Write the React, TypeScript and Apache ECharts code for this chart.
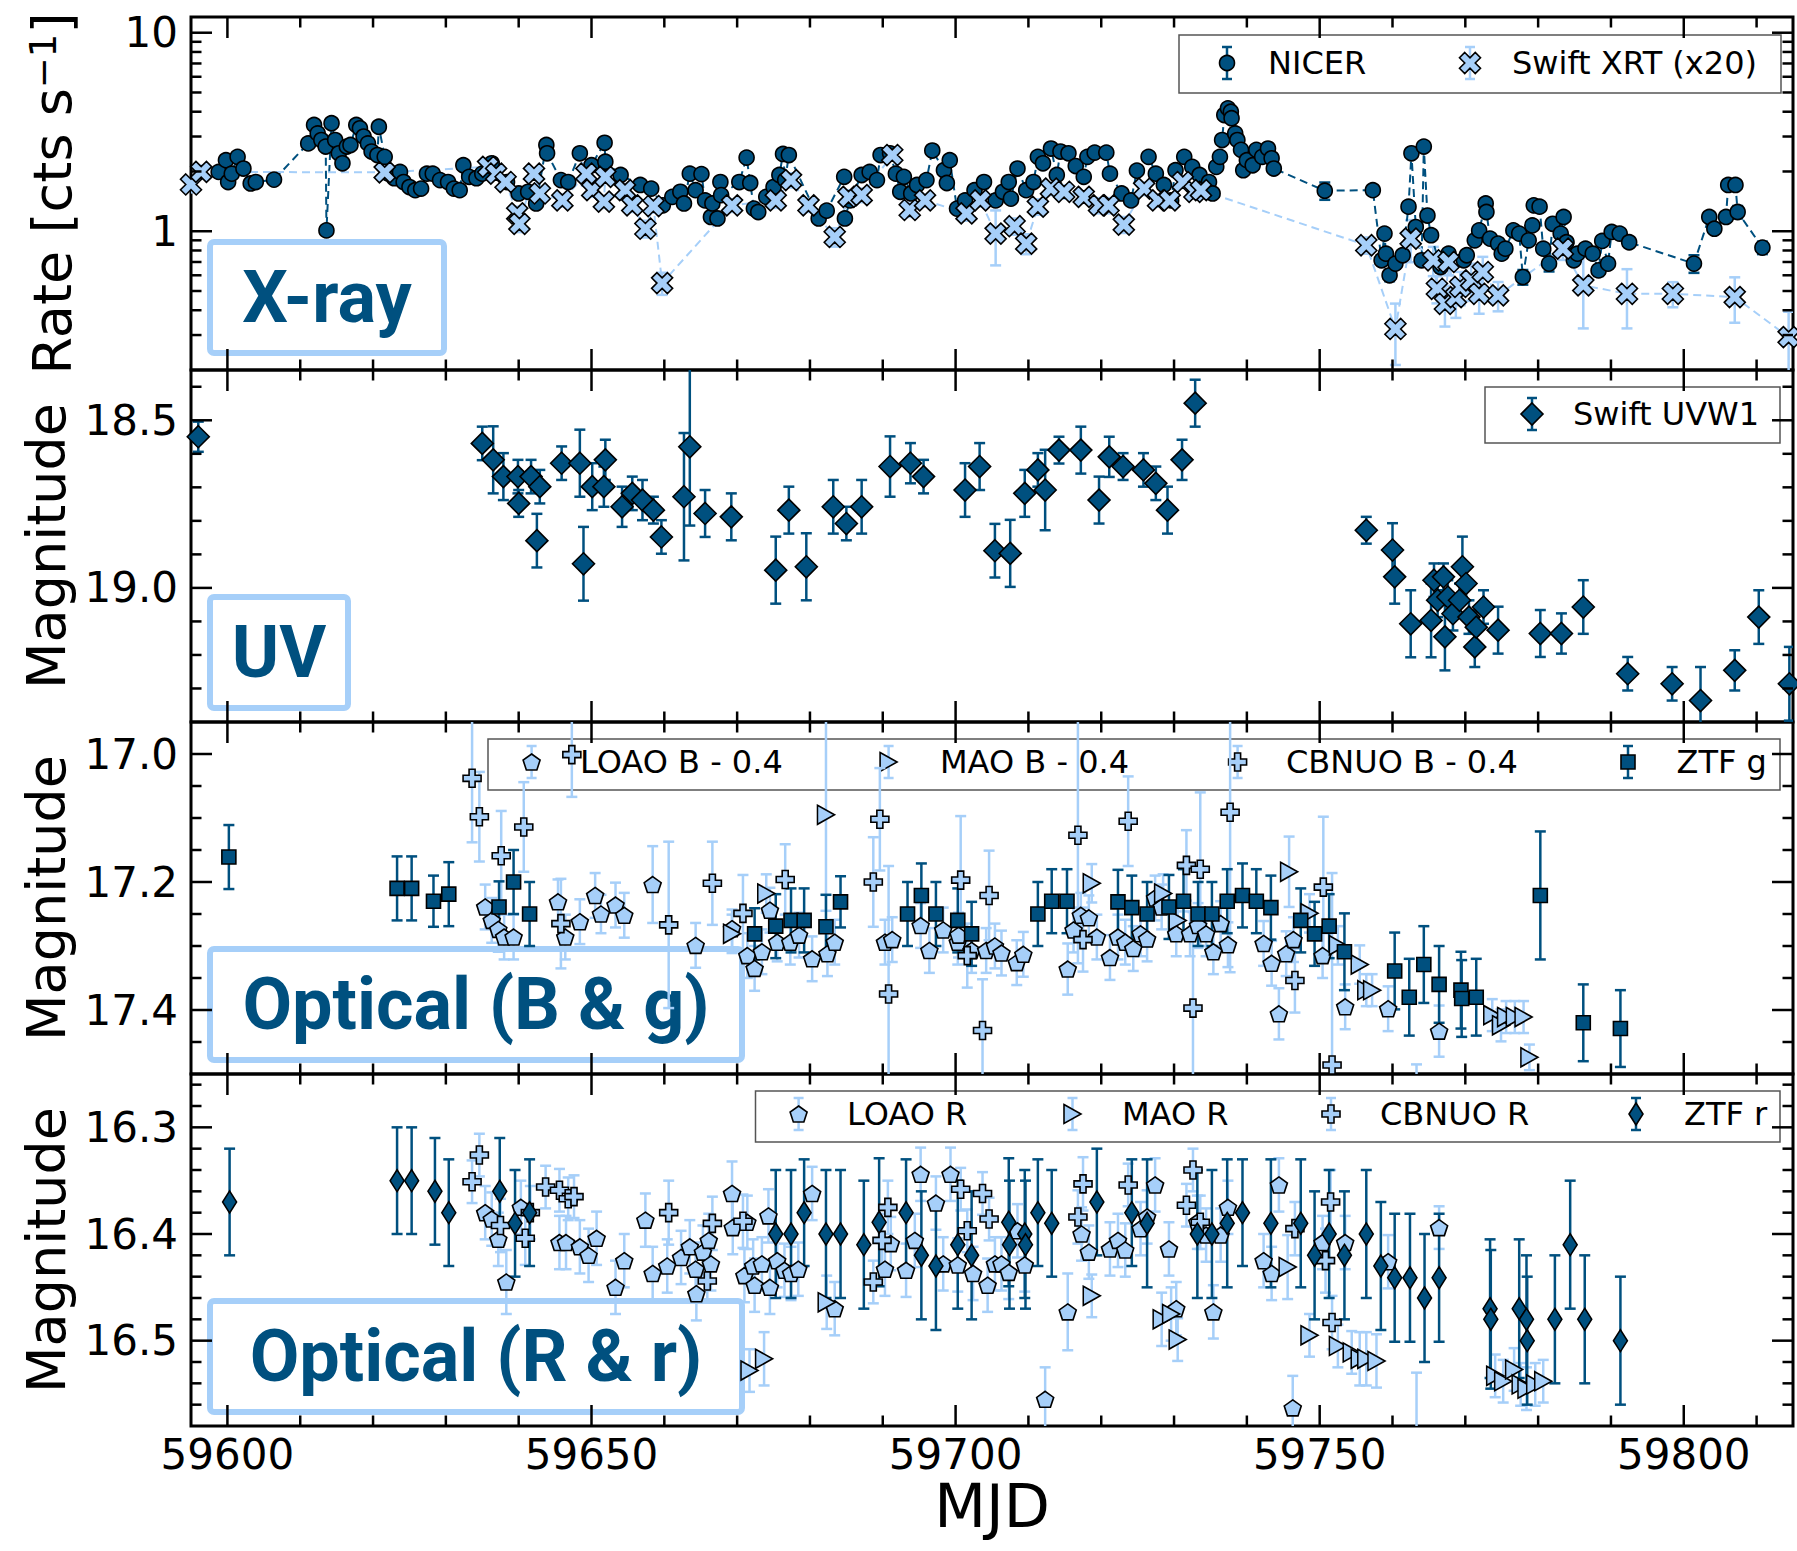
import React, { useEffect, useRef } from 'react';
import * as echarts from 'echarts';

const DARK = '#00507f';
const LIGHT = '#a6cff9';
const FONT = 'DejaVu Sans';
const X_MIN = 59595;
const X_MAX = 59815;

// ---------- tick values ----------
const xMajorTicks = [59600, 59650, 59700, 59750, 59800];
const xMinorTicks = [59610, 59620, 59630, 59640, 59660, 59670, 59680, 59690, 59710, 59720, 59730, 59740, 59760, 59770, 59780, 59790, 59810];
const rateMajorTicks = [1, 10];
const rateMinorTicks = [0.3, 0.4, 0.5, 0.6, 0.7, 0.8, 0.9, 2, 3, 4, 5, 6, 7, 8, 9];
const uvMajorTicks = [18.5, 19.0];
const uvMinorTicks = [18.4, 18.6, 18.7, 18.8, 18.9, 19.1, 19.2, 19.3];
const bgMajorTicks = [17.0, 17.2, 17.4];
const bgMinorTicks = [17.05, 17.1, 17.15, 17.25, 17.3, 17.35, 17.45];
const rrMajorTicks = [16.3, 16.4, 16.5];
const rrMinorTicks = [16.26, 16.28, 16.32, 16.34, 16.36, 16.38, 16.42, 16.44, 16.46, 16.48, 16.52, 16.54, 16.56];

// ---------- X-ray: [MJD, rate, err] ----------
const nicer = [
  [59598.8,1.99,0.06],[59599.8,2.28,0.06],[59600.1,1.77,0.05],[59600.6,1.95,0.05],[59601.4,2.37,0.06],[59602.2,2.07,0.06],[59603.2,1.74,0.05],[59603.9,1.77,0.05],[59606.4,1.82,0.05],
  [59611.1,2.77,0.07],[59611.9,3.43,0.08],[59612.4,3.11,0.08],[59612.9,2.88,0.07],[59613.5,2.67,0.07],[59613.6,1.01,0.05],[59614.3,3.50,0.08],[59614.8,2.88,0.07],[59615.3,2.47,0.06],[59615.8,2.20,0.06],[59616.4,2.67,0.07],[59616.9,2.72,0.07],[59617.7,3.43,0.08],[59618.2,3.30,0.08],[59618.7,3.00,0.07],[59619.3,2.77,0.07],[59619.8,2.52,0.06],[59620.6,2.42,0.06],[59620.8,3.36,0.08],[59621.6,2.37,0.06],
  [59622.1,1.95,0.05],[59622.9,1.85,0.05],[59623.7,1.99,0.05],[59624.2,1.77,0.05],[59625.0,1.67,0.05],[59625.8,1.61,0.05],[59626.6,1.64,0.05],[59627.4,1.95,0.05],[59628.2,1.95,0.05],[59629.2,1.81,0.05],[59630.3,1.77,0.05],[59631.1,1.64,0.05],[59631.9,1.61,0.05],[59632.4,2.15,0.06],[59633.2,1.88,0.05],[59634.2,1.85,0.05],[59635.0,1.95,0.05],[59636.3,2.20,0.06],[59638.4,1.77,0.05],[59640.0,1.55,0.05],[59641.3,1.58,0.05],[59642.4,1.38,0.05],[59643.8,2.72,0.07],[59643.9,2.47,0.06],[59645.8,1.81,0.05],[59646.8,1.77,0.05],[59648.4,2.47,0.06],[59650.0,2.15,0.06],
  [59651.8,2.79,0.07],[59651.9,2.24,0.06],[59654.0,1.92,0.05],[59656.7,1.71,0.05],[59658.2,1.64,0.05],[59659.8,1.35,0.05],[59661.1,1.49,0.05],[59662.2,1.58,0.05],[59662.7,1.38,0.05],[59663.5,1.95,0.05],[59664.3,1.61,0.05],[59665.1,1.94,0.05],[59665.6,1.43,0.05],[59666.4,1.18,0.05],[59666.6,1.38,0.05],[59667.3,1.16,0.05],[59667.7,1.77,0.05],[59667.8,1.52,0.05],
  [59670.3,1.77,0.05],[59671.3,2.35,0.06],[59671.8,1.75,0.05],[59672.3,1.30,0.05],[59672.9,1.25,0.05],[59674.0,1.49,0.05],[59675.0,1.67,0.05],[59675.8,1.92,0.05],[59676.3,2.45,0.06],[59676.6,1.81,0.05],[59677.1,2.42,0.06],[59681.2,1.16,0.05],[59682.3,1.27,0.05],[59684.7,1.88,0.05],[59684.8,1.16,0.05],[59685.5,1.43,0.05],[59687.1,1.92,0.05],[59688.2,1.99,0.05],[59689.2,1.81,0.05],[59689.7,2.42,0.06],
  [59691.0,2.47,0.06],[59691.8,1.95,0.05],[59692.4,1.58,0.05],[59692.9,1.88,0.05],[59693.9,1.55,0.05],[59694.7,1.71,0.05],[59696.0,1.81,0.05],[59696.8,2.55,0.06],[59698.4,2.03,0.06],[59698.8,1.75,0.05],[59699.2,2.28,0.06],[59700.2,1.30,0.05],[59701.3,1.43,0.05],[59702.6,1.61,0.05],[59703.9,1.77,0.05],[59705.5,1.43,0.05],[59706.5,1.58,0.05],[59707.3,1.77,0.05],[59707.6,1.46,0.05],[59708.5,2.07,0.06],[59709.7,1.61,0.05],
  [59710.7,1.77,0.05],[59711.3,2.37,0.06],[59712.0,2.20,0.06],[59713.1,2.61,0.06],[59713.9,1.92,0.05],[59714.4,2.52,0.06],[59715.5,2.47,0.06],[59716.5,2.13,0.06],[59717.6,1.88,0.05],[59718.1,2.37,0.06],[59719.1,2.49,0.06],[59720.7,2.49,0.06],[59721.2,1.95,0.05],[59722.8,1.55,0.05],[59724.1,1.43,0.05],[59724.9,2.02,0.06],[59726.5,2.37,0.06],[59727.5,1.95,0.05],[59728.6,1.71,0.05],[59729.6,1.43,0.05],[59730.2,2.03,0.06],[59731.4,2.37,0.06],[59732.5,2.11,0.06],
  [59733.5,1.92,0.05],[59734.8,1.77,0.05],[59735.3,1.55,0.05],[59735.8,2.11,0.06],[59736.3,2.37,0.06],[59736.6,2.88,0.07],[59736.9,3.85,0.08],[59737.4,4.16,0.09],[59737.8,4.00,0.09],[59737.9,3.71,0.08],[59738.4,3.11,0.07],[59738.7,2.88,0.07],[59739.2,2.57,0.06],[59739.5,2.03,0.06],[59740.0,2.28,0.06],[59740.8,2.15,0.06],[59741.3,2.57,0.06],[59742.1,2.37,0.06],[59742.9,2.61,0.06],[59743.4,2.33,0.06],[59743.7,2.07,0.06],
  [59750.7,1.60,0.16],[59757.3,1.61,0.08],[59758.5,0.714,0.04],[59758.9,0.973,0.05],[59759.1,0.771,0.04],[59759.6,0.60,0.04],[59760.4,0.687,0.04],[59761.4,0.757,0.04],[59762.2,1.33,0.07],[59762.6,2.47,0.1],[59763.2,1.05,0.05],[59764.0,0.714,0.04],[59764.3,2.67,0.1],[59764.8,1.20,0.06],[59765.3,0.955,0.05],[59766.6,0.66,0.04],[59767.7,0.771,0.04],[59769.8,0.714,0.04],[59770.2,0.757,0.04],
  [59771.3,0.90,0.05],[59771.9,1.01,0.05],[59772.8,1.38,0.06],[59772.9,1.25,0.06],[59773.4,0.918,0.05],[59774.5,0.866,0.05],[59775.0,0.771,0.04],[59775.5,0.817,0.04],[59776.6,1.01,0.05],[59777.4,0.973,0.05],[59777.9,0.588,0.05],[59778.7,0.90,0.05],[59779.2,1.07,0.05],[59779.4,1.35,0.06],[59780.2,1.33,0.06],[59780.7,0.817,0.04],[59781.5,0.687,0.06],
  [59782.0,1.09,0.05],[59783.1,0.973,0.05],[59783.5,1.18,0.05],[59783.9,0.88,0.05],[59784.9,0.714,0.04],[59785.4,0.771,0.04],[59786.5,0.817,0.04],[59787.5,0.771,0.04],[59788.3,0.635,0.04],[59788.8,0.894,0.05],[59789.6,0.687,0.04],[59790.1,0.992,0.05],[59791.2,0.973,0.05],[59792.5,0.88,0.05],
  [59801.4,0.687,0.07],[59803.5,1.18,0.06],[59804.2,1.03,0.05],[59805.8,1.18,0.06],[59806.1,1.71,0.07],[59807.1,1.71,0.07],[59807.4,1.25,0.09],[59810.8,0.827,0.06],
];

const swiftXrt = [
  [59595.0,1.72,0.15],[59596.4,1.99,0.15],[59621.6,1.98,0.15],[59635.8,2.11,0.12],[59636.9,1.95,0.12],[59638.2,1.77,0.12],[59639.8,1.23,0.1],[59640.1,1.09,0.1],[59642.1,1.95,0.12],[59642.9,1.55,0.12],[59646.0,1.43,0.1],[59649.3,1.95,0.25],[59650.1,1.61,0.12],
  [59651.7,1.41,0.1],[59651.9,1.88,0.12],[59654.6,1.61,0.12],[59655.6,1.35,0.1],[59657.4,1.03,0.1],[59658.5,1.34,0.1],[59659.7,0.548,0.07],[59669.3,1.35,0.1],[59675.3,1.43,0.12],[59677.4,1.81,0.15],[59679.8,1.35,0.1],[59683.4,0.936,0.1],[59685.3,1.49,0.12],[59687.1,1.52,0.12],
  [59691.3,2.42,0.15],[59693.7,1.28,0.1],[59695.8,1.43,0.1],[59701.5,1.23,0.1],[59703.4,1.43,0.1],[59705.5,0.973,0.3],[59708.1,1.06,0.1],[59709.7,0.866,0.1],[59711.3,1.33,0.12],[59713.1,1.64,0.12],[59714.9,1.58,0.12],[59717.6,1.49,0.1],[59719.7,1.35,0.12],[59721.0,1.35,0.12],
  [59723.1,1.08,0.1],[59725.9,1.64,0.12],[59727.8,1.43,0.1],[59729.4,1.43,0.1],[59731.2,1.77,0.12],[59732.8,1.58,0.12],[59733.7,1.61,0.12],
  [59756.4,0.85,0.08],[59760.4,0.322,0.11],[59762.5,0.918,0.22],[59765.6,0.714,0.12],[59766.1,0.513,0.08],[59767.2,0.431,0.1],[59767.7,0.70,0.1],[59768.7,0.466,0.1],[59769.3,0.524,0.1],[59770.8,0.566,0.12],[59771.9,0.484,0.1],[59772.4,0.623,0.12],[59774.5,0.475,0.08],
  [59783.4,0.817,0.1],[59786.2,0.534,0.21],[59792.2,0.484,0.16],[59798.5,0.484,0.07],[59807.0,0.466,0.12],[59814.4,0.293,0.1],
];

// ---------- UV: [MJD, mag, err] ----------
const uvw1 = [
  [59596.0,18.549,0.045],[59635.0,18.569,0.05],[59636.5,18.618,0.10],[59637.9,18.668,0.07],[59639.9,18.668,0.05],[59640.0,18.748,0.04],[59641.7,18.668,0.05],[59642.5,18.859,0.08],[59642.9,18.698,0.05],[59645.9,18.628,0.05],
  [59648.4,18.628,0.10],[59648.9,18.928,0.11],[59650.1,18.698,0.07],[59651.7,18.698,0.06],[59651.9,18.618,0.06],[59654.2,18.758,0.06],[59655.6,18.718,0.05],[59657.0,18.738,0.06],[59658.5,18.768,0.04],[59659.6,18.848,0.05],
  [59662.7,18.728,0.19],[59663.5,18.579,0.235],[59665.6,18.778,0.07],[59669.2,18.788,0.07],[59675.3,18.947,0.10],[59677.1,18.768,0.07],[59679.5,18.937,0.10],[59683.2,18.758,0.08],[59685.0,18.808,0.05],[59687.1,18.758,0.08],
  [59691.0,18.638,0.09],[59693.8,18.628,0.06],[59695.6,18.668,0.05],[59701.3,18.708,0.08],[59703.3,18.638,0.07],[59705.4,18.889,0.08],[59707.5,18.897,0.10],[59709.5,18.718,0.07],[59711.3,18.648,0.05],[59712.3,18.708,0.12],
  [59714.2,18.589,0.04],[59717.2,18.589,0.07],[59719.7,18.738,0.07],[59721.1,18.609,0.06],[59723.0,18.638,0.04],[59725.8,18.648,0.05],[59727.5,18.688,0.05],[59729.1,18.768,0.07],[59731.1,18.618,0.06],[59732.9,18.449,0.07],
  [59756.4,18.828,0.04],[59760.0,18.887,0.08],[59760.3,18.967,0.08],[59762.5,19.107,0.10],[59765.3,19.097,0.11],[59765.7,18.977,0.05],[59766.2,19.037,0.05],[59767.0,18.967,0.04],[59767.2,19.146,0.10],[59767.6,19.027,0.05],
  [59768.3,19.077,0.05],[59769.2,19.037,0.05],[59769.6,18.937,0.09],[59770.1,18.987,0.05],[59770.5,19.087,0.05],[59771.3,19.176,0.06],[59771.5,19.117,0.05],[59772.5,19.057,0.05],[59774.5,19.126,0.07],[59780.3,19.136,0.07],
  [59783.2,19.136,0.06],[59786.2,19.057,0.08],[59792.3,19.256,0.05],[59798.4,19.286,0.05],[59802.3,19.336,0.10],[59807.0,19.246,0.06],[59810.3,19.087,0.08],[59814.5,19.286,0.11],
];

// ---------- Optical B & g: [MJD, mag, err] ----------
const loaoB = [
  [59635.4,17.239,0.035],[59636.3,17.260,0.035],[59637.2,17.274,0.035],[59638.0,17.286,0.035],[59639.3,17.286,0.035],[59645.4,17.231,0.035],[59646.4,17.286,0.035],[59648.4,17.262,0.035],[59650.5,17.221,0.035],[59651.3,17.250,0.03],
  [59653.3,17.236,0.035],[59654.5,17.252,0.035],[59658.4,17.204,0.06],[59664.3,17.299,0.035],[59669.3,17.273,0.03],[59671.4,17.315,0.035],[59672.4,17.335,0.035],[59673.4,17.309,0.035],[59674.5,17.244,0.035],[59675.5,17.294,0.03],
  [59677.3,17.294,0.035],[59678.5,17.283,0.035],[59680.3,17.320,0.035],[59682.4,17.312,0.035],[59683.4,17.294,0.035],[59690.3,17.294,0.035],[59691.3,17.290,0.035],[59695.2,17.268,0.035],[59696.4,17.307,0.035],[59698.3,17.275,0.035],
  [59700.3,17.294,0.035],[59700.4,17.283,0.035],[59702.2,17.307,0.035],[59704.2,17.307,0.035],[59705.4,17.300,0.035],[59706.3,17.311,0.035],[59708.4,17.326,0.035],[59709.3,17.313,0.035],[59715.4,17.336,0.04],[59716.2,17.275,0.035],
  [59717.2,17.252,0.035],[59718.3,17.256,0.035],[59719.4,17.286,0.035],[59721.2,17.318,0.035],[59722.3,17.286,0.035],[59723.3,17.294,0.035],[59724.4,17.304,0.035],[59725.4,17.281,0.035],[59726.3,17.289,0.035],[59727.4,17.225,0.035],
  [59728.3,17.239,0.035],[59730.3,17.281,0.035],[59732.2,17.281,0.035],[59733.3,17.268,0.035],[59734.4,17.281,0.035],[59735.4,17.309,0.035],[59736.4,17.265,0.035],[59737.4,17.298,0.035],[59742.3,17.296,0.035],[59743.4,17.327,0.035],
  [59744.4,17.406,0.04],[59745.4,17.312,0.035],[59746.4,17.290,0.035],[59750.4,17.315,0.035],[59753.5,17.395,0.035],[59759.4,17.398,0.035],[59763.3,17.540,0.055],[59766.4,17.433,0.04],
];
const maoB = [
  [59669.3,17.281,0.03],[59674.0,17.218,0.03],[59682.2,17.095,0.15],[59718.7,17.202,0.03],[59728.5,17.218,0.03],[59730.5,17.260,0.03],[59745.8,17.184,0.055],[59748.6,17.249,0.03],[59752.5,17.299,0.03],[59755.5,17.329,0.03],
  [59756.4,17.369,0.025],[59757.2,17.369,0.025],[59773.7,17.408,0.025],[59774.9,17.424,0.025],[59775.6,17.411,0.025],[59776.8,17.411,0.025],[59778.0,17.411,0.025],[59778.8,17.474,0.02],
];
const cbnuoB = [
  [59633.6,17.038,0.10],[59634.6,17.098,0.07],[59637.6,17.159,0.07],[59640.7,17.114,0.07],[59645.8,17.265,0.07],[59647.3,17.001,0.066],[59660.6,17.267,0.13],[59666.6,17.202,0.065],[59670.8,17.249,0.06],[59676.6,17.196,0.055],
  [59688.7,17.200,0.07],[59689.6,17.102,0.08],[59690.8,17.375,0.2],[59700.7,17.197,0.1],[59701.6,17.315,0.05],[59703.7,17.432,0.08],[59704.6,17.221,0.07],[59716.8,17.127,0.2],[59717.5,17.290,0.05],[59723.7,17.105,0.07],
  [59731.7,17.174,0.055],[59732.6,17.397,0.15],[59733.6,17.180,0.12],[59737.7,17.091,0.25],[59746.6,17.354,0.05],[59750.5,17.208,0.11],[59751.7,17.486,0.3],
];
const ztfG = [
  [59600.2,17.161,0.05],[59623.3,17.210,0.05],[59625.3,17.210,0.05],[59628.3,17.230,0.04],[59630.4,17.219,0.05],[59637.3,17.239,0.04],[59639.3,17.200,0.05],[59641.5,17.250,0.05],[59672.4,17.281,0.04],[59675.3,17.269,0.05],
  [59677.4,17.260,0.05],[59679.2,17.260,0.05],[59682.2,17.270,0.05],[59684.2,17.231,0.04],[59693.4,17.250,0.05],[59695.3,17.221,0.05],[59697.3,17.250,0.05],[59700.3,17.260,0.05],[59702.2,17.281,0.05],[59711.3,17.250,0.05],
  [59713.2,17.230,0.05],[59715.3,17.230,0.05],[59722.3,17.231,0.05],[59724.2,17.240,0.05],[59726.3,17.250,0.05],[59729.3,17.239,0.05],[59731.3,17.230,0.05],[59733.3,17.250,0.05],[59735.2,17.250,0.05],[59737.3,17.230,0.05],
  [59739.4,17.221,0.05],[59741.3,17.230,0.05],[59743.3,17.240,0.05],[59747.4,17.260,0.05],[59749.3,17.281,0.05],[59751.3,17.269,0.05],[59753.4,17.309,0.06],[59760.3,17.339,0.06],[59762.3,17.380,0.06],[59764.3,17.329,0.06],
  [59766.4,17.360,0.06],[59769.4,17.369,0.06],[59769.5,17.382,0.06],[59771.5,17.380,0.06],[59780.3,17.221,0.10],[59786.2,17.420,0.06],[59791.3,17.429,0.06],
];

// ---------- Optical R & r: [MJD, mag, err] ----------
const loaoR = [
  [59635.4,16.380,0.025],[59636.3,16.386,0.025],[59637.2,16.405,0.025],[59638.3,16.445,0.03],[59640.3,16.375,0.025],[59645.6,16.408,0.025],[59646.5,16.408,0.025],[59648.4,16.412,0.025],[59649.6,16.420,0.025],[59650.7,16.404,0.025],
  [59653.3,16.450,0.025],[59654.5,16.425,0.025],[59657.4,16.387,0.025],[59658.4,16.437,0.025],[59660.4,16.430,0.025],[59662.3,16.422,0.025],[59663.5,16.412,0.025],[59664.3,16.433,0.025],[59664.4,16.456,0.025],[59665.3,16.417,0.025],
  [59666.1,16.406,0.025],[59666.4,16.428,0.025],[59669.3,16.362,0.03],[59669.4,16.394,0.025],[59671.0,16.439,0.025],[59671.4,16.389,0.025],[59672.2,16.430,0.025],[59672.4,16.448,0.025],[59673.4,16.428,0.025],[59674.3,16.383,0.025],
  [59674.5,16.450,0.025],[59675.5,16.425,0.025],[59676.5,16.434,0.025],[59677.4,16.437,0.025],[59678.4,16.433,0.025],[59680.3,16.362,0.025],[59683.4,16.470,0.025],[59690.3,16.433,0.025],[59691.1,16.409,0.025],[59693.2,16.434,0.025],
  [59694.4,16.406,0.025],[59695.2,16.344,0.025],[59697.3,16.371,0.025],[59698.3,16.428,0.025],[59699.3,16.344,0.025],[59700.3,16.429,0.025],[59702.4,16.437,0.025],[59704.4,16.448,0.025],[59705.4,16.428,0.025],[59706.3,16.428,0.025],
  [59707.3,16.436,0.025],[59708.5,16.397,0.025],[59709.5,16.429,0.025],[59712.3,16.555,0.03],[59715.4,16.473,0.036],[59717.3,16.400,0.025],[59718.3,16.417,0.025],[59721.2,16.414,0.025],[59722.3,16.406,0.025],[59723.3,16.415,0.025],
  [59725.4,16.395,0.025],[59726.3,16.384,0.025],[59727.4,16.354,0.025],[59729.3,16.414,0.025],[59730.3,16.470,0.025],[59733.2,16.389,0.025],[59734.4,16.401,0.025],[59735.4,16.473,0.025],[59736.4,16.401,0.025],[59737.4,16.375,0.025],
  [59742.3,16.425,0.025],[59743.4,16.437,0.025],[59744.4,16.354,0.025],[59746.3,16.563,0.03],[59750.4,16.408,0.025],[59753.5,16.408,0.025],[59759.4,16.426,0.025],[59763.3,16.600,0.07],[59766.4,16.394,0.02],
];
const maoR = [
  [59671.7,16.528,0.02],[59673.7,16.517,0.025],[59682.3,16.464,0.025],[59718.7,16.458,0.02],[59728.3,16.480,0.025],[59729.6,16.475,0.025],[59730.5,16.499,0.02],[59745.6,16.431,0.03],[59748.6,16.495,0.02],[59752.5,16.505,0.02],
  [59754.4,16.511,0.02],[59755.5,16.517,0.025],[59756.4,16.517,0.025],[59757.8,16.519,0.025],[59774.1,16.533,0.02],[59775.2,16.538,0.02],[59776.7,16.527,0.02],[59777.6,16.541,0.02],[59778.4,16.545,0.02],[59779.6,16.541,0.02],[59780.7,16.538,0.02],
];
const cbnuoR = [
  [59633.6,16.351,0.02],[59634.6,16.326,0.02],[59637.5,16.392,0.025],[59640.9,16.404,0.025],[59641.6,16.380,0.025],[59643.7,16.356,0.02],[59645.6,16.359,0.02],[59646.8,16.367,0.02],[59647.6,16.365,0.02],[59660.6,16.380,0.03],
  [59665.9,16.444,0.02],[59666.6,16.390,0.025],[59670.8,16.388,0.025],[59688.7,16.445,0.02],[59689.9,16.406,0.025],[59690.7,16.375,0.025],[59700.7,16.358,0.02],[59701.6,16.397,0.02],[59703.7,16.362,0.02],[59704.6,16.386,0.02],
  [59716.8,16.384,0.025],[59717.5,16.353,0.025],[59723.7,16.354,0.02],[59731.7,16.373,0.02],[59732.6,16.340,0.02],[59733.6,16.389,0.025],[59746.6,16.395,0.025],[59750.8,16.425,0.03],[59751.5,16.370,0.03],[59751.7,16.483,0.025],
];
const ztfR = [
  [59600.3,16.370,0.05],[59623.3,16.350,0.05],[59625.3,16.350,0.05],[59628.5,16.360,0.05],[59630.4,16.380,0.05],[59637.4,16.360,0.05],[59639.5,16.390,0.05],[59641.5,16.380,0.05],[59675.3,16.400,0.06],[59677.4,16.400,0.06],
  [59679.2,16.380,0.05],[59682.2,16.400,0.06],[59684.2,16.400,0.06],[59687.4,16.410,0.06],[59689.5,16.389,0.06],[59693.2,16.380,0.05],[59695.3,16.420,0.06],[59697.3,16.430,0.06],[59700.3,16.410,0.06],[59702.2,16.420,0.06],
  [59707.3,16.389,0.06],[59707.4,16.410,0.06],[59709.5,16.400,0.06],[59709.6,16.410,0.06],[59711.3,16.380,0.05],[59713.2,16.390,0.05],[59719.4,16.370,0.05],[59724.2,16.380,0.05],[59726.3,16.390,0.06],[59733.2,16.400,0.06],
  [59735.2,16.400,0.06],[59737.3,16.390,0.06],[59739.4,16.380,0.05],[59743.3,16.390,0.06],[59747.4,16.390,0.06],[59749.3,16.420,0.06],[59751.3,16.400,0.06],[59753.4,16.420,0.06],[59756.4,16.400,0.06],[59758.4,16.430,0.06],
  [59760.3,16.441,0.06],[59762.4,16.441,0.06],[59764.4,16.460,0.06],[59766.4,16.441,0.06],[59773.4,16.470,0.065],[59773.5,16.480,0.065],[59777.4,16.470,0.065],[59778.4,16.480,0.06],[59778.5,16.500,0.06],[59782.3,16.480,0.06],
  [59784.4,16.410,0.06],[59786.4,16.480,0.06],[59791.3,16.500,0.06],
];

// ---------- marker shapes (unit box) ----------
const SHAPE_X = [[0.25,0],[0.5,0.25],[0.75,0],[1,0.25],[0.75,0.5],[1,0.75],[0.75,1],[0.5,0.75],[0.25,1],[0,0.75],[0.25,0.5],[0,0.25]];
const SHAPE_PLUS = [[0.333,0],[0.667,0],[0.667,0.333],[1,0.333],[1,0.667],[0.667,0.667],[0.667,1],[0.333,1],[0.333,0.667],[0,0.667],[0,0.333],[0.333,0.333]];
const SHAPE_PENT = [[0.5,0],[1,0.382],[0.809,1],[0.191,1],[0,0.382]];
const SHAPE_TRI = [[0,0],[1,0.5],[0,1]];
const SHAPE_DIAM = [[0.5,0],[1,0.5],[0.5,1],[0,0.5]];
const SHAPE_SQ = [[0,0],[1,0],[1,1],[0,1]];

function toSymbol(pts: number[][]) {
  return 'path://M' + pts.map((p) => `${p[0] * 100},${p[1] * 100}`).join('L') + 'Z';
}

const MARK: Record<string, { pts: number[][] | null; size: number[] }> = {
  nicer: { pts: null, size: [15, 15] },
  swift: { pts: SHAPE_X, size: [21, 21] },
  uvw1: { pts: SHAPE_DIAM, size: [22, 22] },
  loao: { pts: SHAPE_PENT, size: [17, 16] },
  mao: { pts: SHAPE_TRI, size: [17, 19] },
  cbnuo: { pts: SHAPE_PLUS, size: [18, 18] },
  ztfg: { pts: SHAPE_SQ, size: [14, 14] },
  ztfr: { pts: SHAPE_DIAM, size: [14, 22] },
};

function symbolOf(key: string) {
  const m = MARK[key];
  return m.pts ? toSymbol(m.pts) : 'circle';
}

function errorBarSeries(data: number[][], color: string, gi: number) {
  return {
    type: 'custom',
    xAxisIndex: gi,
    yAxisIndex: gi,
    clip: true,
    silent: true,
    data: data.map((d) => [d[0], d[1] - d[2], d[1] + d[2]]),
    encode: { x: 0, y: [1, 2] },
    renderItem: (params: any, api: any) => {
      const x = api.value(0);
      const a = api.coord([x, api.value(1)]);
      const b = api.coord([x, api.value(2)]);
      const cap = 5.5;
      const style = { stroke: color, lineWidth: 2.5, fill: null };
      return {
        type: 'group',
        children: [
          { type: 'line', shape: { x1: a[0], y1: a[1], x2: b[0], y2: b[1] }, style },
          { type: 'line', shape: { x1: a[0] - cap, y1: a[1], x2: a[0] + cap, y2: a[1] }, style },
          { type: 'line', shape: { x1: b[0] - cap, y1: b[1], x2: b[0] + cap, y2: b[1] }, style },
        ],
      };
    },
  };
}

function scatterSeries(name: string, data: number[][], key: string, fill: string, gi: number) {
  return {
    type: 'scatter',
    name,
    xAxisIndex: gi,
    yAxisIndex: gi,
    data: data.map((d) => [d[0], d[1]]),
    symbol: symbolOf(key),
    symbolSize: MARK[key].size,
    itemStyle: { color: fill, borderColor: '#000', borderWidth: 1.6, opacity: 1 },
    emphasis: { disabled: true },
    silent: true,
    clip: true,
  };
}

function lineSeries(name: string, data: number[][], key: string, fill: string, lineColor: string, gi: number) {
  return {
    type: 'line',
    name,
    xAxisIndex: gi,
    yAxisIndex: gi,
    data: data.map((d) => [d[0], d[1]]),
    symbol: symbolOf(key),
    symbolSize: MARK[key].size,
    showSymbol: true,
    showAllSymbol: true,
    itemStyle: { color: fill, borderColor: '#000', borderWidth: 1.6 },
    lineStyle: { color: lineColor, width: 2, type: [8, 5] },
    emphasis: { disabled: true },
    silent: true,
    clip: true,
  };
}

function tickSeries(gi: number, yRef: number, yMajor: number[], yMinor: number[]) {
  const data: number[][] = [];
  xMajorTicks.forEach((v) => data.push([v, yRef, 0]));
  xMinorTicks.forEach((v) => data.push([v, yRef, 1]));
  yMajor.forEach((v) => data.push([59700, v, 2]));
  yMinor.forEach((v) => data.push([59700, v, 3]));
  return {
    type: 'custom',
    xAxisIndex: gi,
    yAxisIndex: gi,
    silent: true,
    clip: false,
    z: 8,
    data,
    encode: { x: 0, y: 1 },
    renderItem: (params: any, api: any) => {
      const cs = params.coordSys;
      const kind = api.value(2);
      const p = api.coord([api.value(0), api.value(1)]);
      const st = { stroke: '#000', lineWidth: 2.5 };
      const len = kind === 0 || kind === 2 ? 21 : 10.5;
      if (kind < 2) {
        return {
          type: 'group',
          children: [
            { type: 'line', shape: { x1: p[0], y1: cs.y + cs.height, x2: p[0], y2: cs.y + cs.height - len }, style: st },
            { type: 'line', shape: { x1: p[0], y1: cs.y, x2: p[0], y2: cs.y + len }, style: st },
          ],
        };
      }
      return {
        type: 'group',
        children: [
          { type: 'line', shape: { x1: cs.x, y1: p[1], x2: cs.x + len, y2: p[1] }, style: st },
          { type: 'line', shape: { x1: cs.x + cs.width, y1: p[1], x2: cs.x + cs.width - len, y2: p[1] }, style: st },
        ],
      };
    },
  };
}

// ---------- graphic helpers ----------
function markerGraphic(key: string, cx: number, cy: number, fill: string) {
  const m = MARK[key];
  const style = { fill, stroke: '#000', lineWidth: 1.6 };
  if (!m.pts) {
    return { type: 'circle', shape: { cx, cy, r: m.size[0] / 2 }, style };
  }
  const [w, h] = m.size;
  return {
    type: 'polygon',
    shape: { points: m.pts.map((p) => [cx + (p[0] - 0.5) * w, cy + (p[1] - 0.5) * h]) },
    style,
  };
}

function legendGraphic(box: number[], cy: number, items: any[]) {
  const children: any[] = [
    {
      type: 'rect',
      shape: { x: box[0], y: box[1], width: box[2], height: box[3] },
      style: { fill: 'rgba(255,255,255,0.8)', stroke: '#555', lineWidth: 1.5 },
    },
  ];
  items.forEach((it) => {
    const bs = { stroke: it.bar, lineWidth: 2.5 };
    children.push({ type: 'line', shape: { x1: it.cx, y1: cy - 16, x2: it.cx, y2: cy + 16 }, style: bs });
    children.push({ type: 'line', shape: { x1: it.cx - 5, y1: cy - 16, x2: it.cx + 5, y2: cy - 16 }, style: bs });
    children.push({ type: 'line', shape: { x1: it.cx - 5, y1: cy + 16, x2: it.cx + 5, y2: cy + 16 }, style: bs });
    children.push(markerGraphic(it.key, it.cx, cy, it.fill));
    children.push({
      type: 'text',
      x: it.tx,
      y: cy,
      style: {
        text: it.label,
        fontSize: 32,
        fontFamily: FONT,
        fill: '#000',
        align: 'left',
        verticalAlign: 'middle',
        textAlign: 'left',
        textVerticalAlign: 'middle',
      },
    });
  });
  return { type: 'group', z: 80, children };
}

function labelBox(x: number, y: number, w: number, h: number, text: string) {
  return {
    type: 'group',
    z: 70,
    children: [
      { type: 'rect', shape: { x, y, width: w, height: h, r: 4 }, style: { fill: '#fff', stroke: LIGHT, lineWidth: 6 } },
      {
        type: 'text',
        x: x + w / 2,
        y: y + h / 2,
        style: {
          text,
          fontSize: 72,
          fontWeight: 'bold',
          fontFamily: 'Roboto',
          fill: DARK,
          align: 'center',
          verticalAlign: 'middle',
          textAlign: 'center',
          textVerticalAlign: 'middle',
        },
      },
    ],
  };
}

const GRID_TOPS = [17, 370, 722, 1074];
const GRID_HEIGHTS = [353, 352, 352, 352];

function isMultiple(v: number, step: number) {
  const r = v / step;
  return Math.abs(r - Math.round(r)) < 1e-6;
}

function buildOption() {
  const grids = GRID_TOPS.map((top, i) => ({
    left: 191,
    top,
    width: 1602,
    height: GRID_HEIGHTS[i],
    show: true,
    borderColor: '#000',
    borderWidth: 3,
    backgroundColor: 'transparent',
    containLabel: false,
    outerBoundsMode: 'none',
  }));

  const labelStyle = { fontSize: 42, fontFamily: FONT, color: '#000' };
  const nameStyle = { fontSize: 54, fontFamily: FONT, color: '#000' };

  const xAxes = GRID_TOPS.map((_, i) => ({
    type: 'value',
    gridIndex: i,
    min: X_MIN,
    max: X_MAX,
    interval: 5,
    axisLine: { show: false },
    axisTick: { show: false },
    splitLine: { show: false },
    axisLabel:
      i === 3
        ? {
            show: true,
            ...labelStyle,
            margin: 7,
            showMinLabel: false,
            showMaxLabel: false,
            formatter: (v: number) => (Math.round(v) % 50 === 0 ? String(Math.round(v)) : ''),
          }
        : { show: false },
    name: i === 3 ? 'MJD' : '',
    nameLocation: 'middle',
    nameGap: 49,
    nameTextStyle: { fontSize: 60, fontFamily: FONT, color: '#000' },
  }));

  const commonY = {
    axisLine: { show: false },
    axisTick: { show: false },
    splitLine: { show: false },
    nameLocation: 'middle',
    nameRotate: 90,
    nameGap: 112,
    nameTextStyle: nameStyle,
  };

  const yAxes = [
    {
      ...commonY,
      type: 'log',
      logBase: 10,
      gridIndex: 0,
      min: 0.2,
      max: 12,
      name: 'Rate [cts s{sup|−1}]',
      nameTextStyle: { ...nameStyle, rich: { sup: { fontSize: 37, fontFamily: FONT, color: '#000', verticalAlign: 'top' } } },
      axisLabel: {
        ...labelStyle,
        margin: 13,
        showMinLabel: false,
        showMaxLabel: false,
        formatter: (v: number) => {
          const l = Math.log10(v);
          return Math.abs(l - Math.round(l)) < 1e-6 ? String(Math.round(v)) : '';
        },
      },
    },
    {
      ...commonY,
      type: 'value',
      gridIndex: 1,
      inverse: true,
      min: 18.35,
      max: 19.4,
      interval: 0.05,
      name: 'Magnitude',
      axisLabel: { ...labelStyle, margin: 13, formatter: (v: number) => (isMultiple(v, 0.5) ? v.toFixed(1) : '') },
    },
    {
      ...commonY,
      type: 'value',
      gridIndex: 2,
      inverse: true,
      min: 16.95,
      max: 17.5,
      interval: 0.05,
      name: 'Magnitude',
      axisLabel: { ...labelStyle, margin: 13, formatter: (v: number) => (isMultiple(v, 0.2) ? v.toFixed(1) : '') },
    },
    {
      ...commonY,
      type: 'value',
      gridIndex: 3,
      inverse: true,
      min: 16.25,
      max: 16.58,
      interval: 0.01,
      name: 'Magnitude',
      axisLabel: { ...labelStyle, margin: 13, formatter: (v: number) => (isMultiple(v, 0.1) ? v.toFixed(1) : '') },
    },
  ];

  const series: any[] = [
    errorBarSeries(nicer, DARK, 0),
    lineSeries('NICER', nicer, 'nicer', DARK, DARK, 0),
    errorBarSeries(swiftXrt, LIGHT, 0),
    lineSeries('Swift XRT (x20)', swiftXrt, 'swift', LIGHT, LIGHT, 0),
    tickSeries(0, 1, rateMajorTicks, rateMinorTicks),

    errorBarSeries(uvw1, DARK, 1),
    scatterSeries('Swift UVW1', uvw1, 'uvw1', DARK, 1),
    tickSeries(1, 18.9, uvMajorTicks, uvMinorTicks),

    errorBarSeries(loaoB, LIGHT, 2),
    scatterSeries('LOAO B - 0.4', loaoB, 'loao', LIGHT, 2),
    errorBarSeries(maoB, LIGHT, 2),
    scatterSeries('MAO B - 0.4', maoB, 'mao', LIGHT, 2),
    errorBarSeries(cbnuoB, LIGHT, 2),
    scatterSeries('CBNUO B - 0.4', cbnuoB, 'cbnuo', LIGHT, 2),
    errorBarSeries(ztfG, DARK, 2),
    scatterSeries('ZTF g', ztfG, 'ztfg', DARK, 2),
    tickSeries(2, 17.2, bgMajorTicks, bgMinorTicks),

    errorBarSeries(loaoR, LIGHT, 3),
    scatterSeries('LOAO R', loaoR, 'loao', LIGHT, 3),
    errorBarSeries(maoR, LIGHT, 3),
    scatterSeries('MAO R', maoR, 'mao', LIGHT, 3),
    errorBarSeries(cbnuoR, LIGHT, 3),
    scatterSeries('CBNUO R', cbnuoR, 'cbnuo', LIGHT, 3),
    errorBarSeries(ztfR, DARK, 3),
    scatterSeries('ZTF r', ztfR, 'ztfr', DARK, 3),
    tickSeries(3, 16.4, rrMajorTicks, rrMinorTicks),
  ];

  const graphic = [
    labelBox(210, 242, 234, 111, 'X-ray'),
    labelBox(210, 597, 138, 111, 'UV'),
    labelBox(210, 949, 532, 111, 'Optical (B & g)'),
    labelBox(210, 1301, 532, 111, 'Optical (R & r)'),
    legendGraphic([1179, 35, 602, 58], 63, [
      { label: 'NICER', key: 'nicer', fill: DARK, bar: DARK, cx: 1227, tx: 1268 },
      { label: 'Swift XRT (x20)', key: 'swift', fill: LIGHT, bar: LIGHT, cx: 1470, tx: 1512 },
    ]),
    legendGraphic([1485, 387, 295, 56], 414, [
      { label: 'Swift UVW1', key: 'uvw1', fill: DARK, bar: DARK, cx: 1532, tx: 1573 },
    ]),
    legendGraphic([488, 739, 1292, 51], 762, [
      { label: 'LOAO B - 0.4', key: 'loao', fill: LIGHT, bar: LIGHT, cx: 531.6, tx: 580 },
      { label: 'MAO B - 0.4', key: 'mao', fill: LIGHT, bar: LIGHT, cx: 888.6, tx: 940 },
      { label: 'CBNUO B - 0.4', key: 'cbnuo', fill: LIGHT, bar: LIGHT, cx: 1237.6, tx: 1286 },
      { label: 'ZTF g', key: 'ztfg', fill: DARK, bar: DARK, cx: 1628, tx: 1676.5 },
    ]),
    legendGraphic([755.5, 1091, 1024.5, 51], 1114, [
      { label: 'LOAO R', key: 'loao', fill: LIGHT, bar: LIGHT, cx: 798.6, tx: 847 },
      { label: 'MAO R', key: 'mao', fill: LIGHT, bar: LIGHT, cx: 1072.5, tx: 1122 },
      { label: 'CBNUO R', key: 'cbnuo', fill: LIGHT, bar: LIGHT, cx: 1331, tx: 1380 },
      { label: 'ZTF r', key: 'ztfr', fill: DARK, bar: DARK, cx: 1636, tx: 1684 },
    ]),
  ];

  return {
    animation: false,
    backgroundColor: '#ffffff',
    grid: grids,
    xAxis: xAxes,
    yAxis: yAxes,
    series,
    graphic,
  };
}

export default function App() {
  const ref = useRef<HTMLDivElement>(null);
  useEffect(() => {
    document.body.style.margin = '0';
    const chart = echarts.init(ref.current as HTMLDivElement, null, { renderer: 'svg' });
    chart.setOption(buildOption() as any);
    return () => {
      chart.dispose();
    };
  }, []);
  return <div ref={ref} style={{ width: 1797, height: 1551 }} />;
}
